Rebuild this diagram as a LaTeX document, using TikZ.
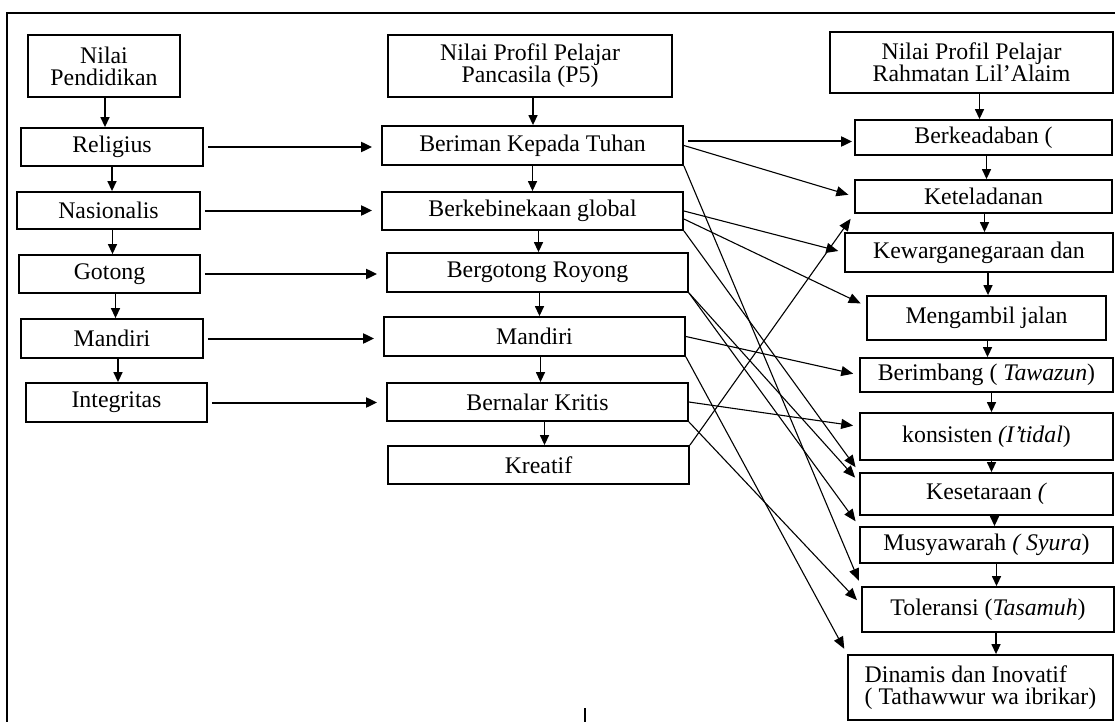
\documentclass[tikz,border=0pt]{standalone}
\usepackage{fontspec}
\setmainfont{Liberation Serif}
\usetikzlibrary{arrows.meta}
\begin{document}
\begin{tikzpicture}[x=1pt,y=-1pt]
\tikzstyle{box}=[draw,line width=1.8pt,inner sep=0pt,align=center,font=\fontsize{23.8}{22}\selectfont]
\tikzstyle{down}=[-{Triangle[length=10pt,width=9pt]},line width=1.4pt]
\tikzstyle{across}=[-{Triangle[length=11pt,width=10pt]},line width=2pt,shorten <=4pt,shorten >=9pt]
\tikzstyle{cross}=[-{Triangle[length=12pt,width=10pt]},line width=1.1pt,shorten >=6pt]
\useasboundingbox (0,0) rectangle (1115,722);
\draw[line width=1.5pt] (1115,13) -- (7,13) -- (7,722);
\draw[line width=1.2pt] (585,708) -- (585,722);
\node[box,minimum width=152,minimum height=62] (np) at (104,66) {Nilai\\Pendidikan};
\node[box,minimum width=182,minimum height=38] (rel) at (112,147) {Religius};
\node[box,minimum width=183,minimum height=37] (nas) at (108.5,210.5) {Nasionalis};
\node[box,minimum width=181,minimum height=38] (got) at (109.5,274) {Gotong};
\node[box,minimum width=182,minimum height=39] (man) at (112,338.5) {Mandiri};
\node[box,minimum width=181,minimum height=39] (int) at (116.5,402.5) {Integritas};
\node[box,minimum width=284,minimum height=62] (p5) at (530,66) {Nilai Profil Pelajar\\Pancasila (P5)};
\node[box,minimum width=301,minimum height=39] (ber) at (532.5,145.5) {Beriman Kepada Tuhan};
\node[box,minimum width=301,minimum height=38] (keb) at (532.5,211) {Berkebinekaan global};
\node[box,minimum width=301,minimum height=39] (gr) at (537.5,272.5) {Bergotong Royong};
\node[box,minimum width=301,minimum height=39] (mm) at (534.5,336.5) {Mandiri};
\node[box,minimum width=301,minimum height=38] (bk) at (537.5,402) {Bernalar Kritis};
\node[box,minimum width=301,minimum height=38] (kr) at (538.5,465) {Kreatif};
\node[box,minimum width=283,minimum height=61] (ra) at (971.5,62.5) {Nilai Profil Pelajar\\Rahmatan Lil’Alaim};
\node[box,minimum width=257,minimum height=35] (bad) at (983.5,137.5) {Berkeadaban (};
\node[box,minimum width=257,minimum height=33] (tel) at (983.5,196.5) {Keteladanan};
\node[box,minimum width=268,minimum height=39] (kew) at (979,252.5) {Kewarganegaraan dan};
\node[box,minimum width=239,minimum height=44] (mej) at (986.5,318) {Mengambil jalan};
\node[box,minimum width=253,minimum height=34] (bim) at (986.5,375) {Berimbang ( \textit{Tawazun})};
\node[box,minimum width=253,minimum height=47] (kon) at (986.5,436.5) {konsisten \textit{(I’tidal})};
\node[box,minimum width=253,minimum height=42] (ksa) at (986.5,494) {Kesetaraan \textit{(}};
\node[box,minimum width=253,minimum height=36] (mus) at (986.5,545) {Musyawarah \textit{( Syura})};
\node[box,minimum width=252,minimum height=45] (tol) at (988,609.5) {Toleransi (\textit{Tasamuh})};
\node[box,minimum width=265,minimum height=65,align=left] (din) at (980.5,687.5) {Dinamis dan Inovatif\\ ( Tathawwur wa ibrikar)};
\foreach \a/\b/\s in {np/rel/1,rel/nas/0,nas/got/4,got/man/6,man/int/6,p5/ber/3,ber/keb/0,keb/gr/6,gr/mm/2,mm/bk/6,bk/kr/7,ra/bad/8,bad/tel/3,tel/kew/1,kew/mej/9,mej/bim/1,bim/kon/5,kon/ksa/5,ksa/mus/8,mus/tol/10,tol/din/8}
  \draw[down] ([xshift=\s pt]\a.south) -- ([xshift=\s pt]\a.south |- \b.north);
\foreach \a/\b in {rel/ber,nas/keb,got/gr,man/mm,int/bk}
  \draw[across] (\a.east) -- (\a.east -| \b.west);
\draw[across,shorten >=2pt] ([yshift=4pt]ber.east) -- ([yshift=4pt]ber.east -| bad.west);
\draw[cross] (ber.east) -- (tel.west);
\draw[cross] (ber.south east) -- (tol.north west);
\draw[cross] (keb.east) -- (kew.west);
\draw[cross] ([yshift=-8pt]keb.east) -- ([yshift=12pt]mej.west);
\draw[cross] (keb.south east) -- (ksa.north west);
\draw[cross] (gr.south east) -- ([yshift=-10pt]ksa.north west);
\draw[cross] (gr.south east) -- (mus.north west);
\draw[cross] (mm.east) -- (bim.west);
\draw[cross] (mm.south east) -- (din.north west);
\draw[cross] (bk.east) -- ([yshift=10pt]kon.west);
\draw[cross] (bk.south east) -- ([yshift=5pt]tol.west);
\draw[cross] (kr.north east) -- (tel.south west);
\end{tikzpicture}
\end{document}
